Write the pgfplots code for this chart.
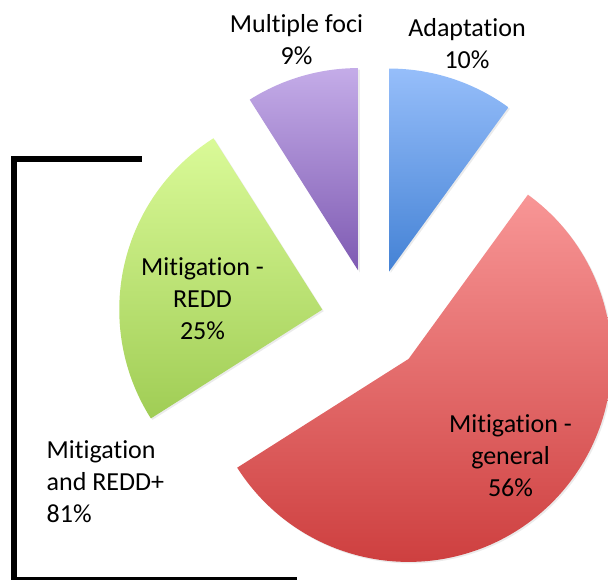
\documentclass[border=0pt]{standalone}
\usepackage{pgfplots}
\pgfplotsset{compat=1.18}
\usepackage{fontspec}
\setmainfont[Ligatures=NoCommon]{Carlito}
\usetikzlibrary{calc}

% Shares of the portfolio (percent), clockwise from 12 o'clock
\def\vAdapt{10}
\def\vGeneral{56}
\def\vRedd{25}
\def\vFoci{9}

% Pie geometry in axis units (1 unit = 1pt)
\def\cx{373}
\def\cy{321}
\def\rad{203}
\def\explode{52}

\definecolor{adaptTop}{RGB}{150,190,250}
\definecolor{adaptBot}{RGB}{68,130,213}
\definecolor{genTop}{RGB}{248,150,150}
\definecolor{genBot}{RGB}{205,62,62}
\definecolor{reddTop}{RGB}{218,250,152}
\definecolor{reddBot}{RGB}{160,205,85}
\definecolor{fociTop}{RGB}{196,172,232}
\definecolor{fociBot}{RGB}{126,90,178}

\tikzset{lbl/.style={font=\fontsize{26}{32}\selectfont, inner sep=0pt, align=center}}

% #1 = cumulative share where the slice starts, #2 = its share,
% #3/#4 = gradient colours (top/bottom)
\newcommand{\pieslice}[4]{%
  \pgfmathsetmacro\sa{90-3.6*#1}%
  \pgfmathsetmacro\ea{90-3.6*(#1+#2)}%
  \pgfmathsetmacro\ma{(\sa+\ea)/2}%
  \fill[black, opacity=0.08]
    ($(axis cs:\cx,\cy)+(\ma:\explode pt)+(1.5pt,-1.5pt)$) -- ++(\sa:\rad pt)
    arc[start angle=\sa, end angle=\ea, radius=\rad pt] -- cycle;%
  \shade[top color=#3, bottom color=#4]
    ($(axis cs:\cx,\cy)+(\ma:\explode pt)$) -- ++(\sa:\rad pt)
    arc[start angle=\sa, end angle=\ea, radius=\rad pt] -- cycle;%
}

\begin{document}
\begin{tikzpicture}
\begin{axis}[
  scale only axis, width=608pt, height=580pt,
  xmin=0, xmax=608, ymin=0, ymax=580, y dir=reverse,
  hide axis, clip=true,
]
\pgfplotsextra{%
  \pieslice{0}{\vAdapt}{adaptTop}{adaptBot}%
  \pgfmathsetmacro\startG{\vAdapt}%
  \pieslice{\startG}{\vGeneral}{genTop}{genBot}%
  \pgfmathsetmacro\startR{\vAdapt+\vGeneral}%
  \pieslice{\startR}{\vRedd}{reddTop}{reddBot}%
  \pgfmathsetmacro\startF{\vAdapt+\vGeneral+\vRedd}%
  \pieslice{\startF}{\vFoci}{fociTop}{fociBot}%
}

% bracket grouping the two mitigation slices
\draw[line width=5.6pt, line join=miter]
  (axis cs:141.5,159) -- (axis cs:14,159) -- (axis cs:14,579.5) -- (axis cs:297,579.5);

\node[lbl] at (axis cs:296.5,40) {Multiple foci\\\vFoci\%};
\node[lbl] at (axis cs:467,43.5) {Adaptation\\\vAdapt\%};
\node[lbl] at (axis cs:202.5,298.5) {Mitigation -\\REDD\\\vRedd\%};
\node[lbl] at (axis cs:510.5,456) {Mitigation -\\general\\\vGeneral\%};
\node[lbl, anchor=west, align=left] at (axis cs:46.5,482) {Mitigation\\and REDD+\\81\%};
\end{axis}
\pgfresetboundingbox
\useasboundingbox (current axis.south west) rectangle (current axis.north east);
\end{tikzpicture}
\end{document}
